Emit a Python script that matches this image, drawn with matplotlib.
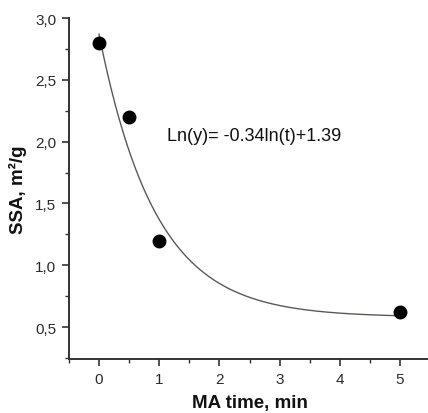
import numpy as np
import matplotlib
matplotlib.use("Agg")
import matplotlib.pyplot as plt
from matplotlib.ticker import MultipleLocator, FuncFormatter

plt.rcParams['font.family'] = ['Liberation Sans', 'DejaVu Sans']

# data
ma_time = [0, 0.5, 1, 5]
ssa = [2.8, 2.2, 1.2, 0.62]

# fitted decay curve parameters
fit_y0 = 0.58
fit_A = 2.29
fit_tau = 0.94

equation_text = "Ln(y)= -0.34ln(t)+1.39"

fig = plt.figure(figsize=(4.28, 4.14), dpi=100)
ax = fig.add_axes([0.161, 0.130, 0.844, 0.824])

t = np.linspace(0, 5, 300)
ax.plot(t, fit_y0 + fit_A * np.exp(-t / fit_tau), color='#5a5a55', lw=1.0, zorder=2)
ax.plot(ma_time, ssa, 'o', color='black', ms=9, zorder=3)

ax.set_xlim(-0.5, 5.5)
ax.set_ylim(0.24, 3.0)
ax.xaxis.set_major_locator(MultipleLocator(1))
ax.xaxis.set_minor_locator(MultipleLocator(0.5))
ax.yaxis.set_major_locator(MultipleLocator(0.5))
ax.yaxis.set_minor_locator(MultipleLocator(0.25))
ax.yaxis.set_major_formatter(FuncFormatter(lambda v, p: f"{v:.1f}".replace('.', ',')))
ax.xaxis.set_major_formatter(FuncFormatter(lambda v, p: f"{v:.0f}"))

for s in ['top', 'right']:
    ax.spines[s].set_visible(False)
for s in ['left', 'bottom']:
    ax.spines[s].set_linewidth(1.4)
    ax.spines[s].set_color('#333333')

ax.tick_params(which='major', direction='out', length=5, width=1.2, color='#333333',
               labelsize=11, labelcolor='#2a2a2a', pad=4)
ax.tick_params(which='minor', direction='out', length=3, width=1.0, color='#333333')

ax.set_xlabel("MA time, min", fontsize=13.5, fontweight='bold', color='#111111', labelpad=6)
ax.set_ylabel("SSA, m²/g", fontsize=13.5, fontweight='bold', color='#111111', labelpad=6)

ax.text(1.13, 2.05, equation_text, fontsize=13, color='#111111', va='center', ha='left')

fig.savefig("out.png", dpi=100)
